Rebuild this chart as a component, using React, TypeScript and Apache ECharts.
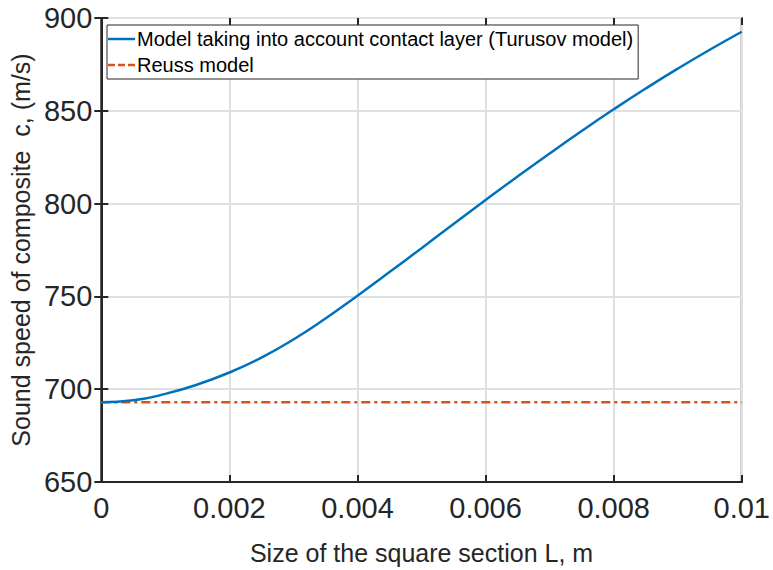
import React, { useEffect, useRef } from "react";
import * as echarts from "echarts";

const xValues = [0, 0.0005, 0.001, 0.0015, 0.002, 0.0025, 0.003, 0.0035, 0.004, 0.0045, 0.005, 0.0055, 0.006, 0.0065, 0.007, 0.0075, 0.008, 0.0085, 0.009, 0.0095, 0.01];
const turusov = [693, 694, 697.5, 702.5, 709, 717, 726.8, 738.1, 750.4, 763.1, 776, 789, 801.9, 814.6, 827, 839.1, 850.8, 862, 872.7, 882.9, 892.6];
const reussValue = 693;
const seriesNames = ["Model taking into account contact layer (Turusov model)", "Reuss model"];
const xTitle = "Size of the square section L, m";
const yTitle = "Sound speed of composite  c, (m/s)";

const FONT = "Liberation Sans, Arial, Helvetica, sans-serif";
const AXIS = "#262626";
const BLUE = "#0072BD";
const ORANGE = "#D95319";

export default function App() {
  const ref = useRef<HTMLDivElement>(null);
  useEffect(() => {
    document.body.style.margin = "0";
    const chart = echarts.init(ref.current!, null, { renderer: "svg" });
    const fmt = (v: number) => String(parseFloat(v.toFixed(4)));
    const hiddenAxisCommon = {
      axisLine: { show: false },
      axisLabel: { show: false },
      splitLine: { show: false },
      axisTick: { show: true, inside: true, length: 7, lineStyle: { color: AXIS, width: 2 } },
    };
    chart.setOption({
      animation: false,
      backgroundColor: "#ffffff",
      textStyle: { fontFamily: FONT },
      grid: { left: 101, right: 30, top: 18, bottom: 86, show: true, borderColor: AXIS, borderWidth: 2, containLabel: false },
      legend: {
        orient: "vertical",
        left: 107,
        top: 25,
        backgroundColor: "#ffffff",
        borderColor: AXIS,
        borderWidth: 1,
        borderRadius: 0,
        padding: [4, 5, 4, 1],
        itemGap: 6,
        itemWidth: 27,
        itemHeight: 2.5,
        textStyle: { fontSize: 20, color: "#000000", fontFamily: FONT, padding: [0, 0, 0, -3] },
        data: [
          { name: seriesNames[0], icon: "rect", itemStyle: { color: BLUE } },
          {
            name: seriesNames[1],
            icon: "path://M0,0h7v2.5h-7z M10,0h7v2.5h-7z M20,0h7v2.5h-7z",
            itemStyle: { color: ORANGE },
          },
        ],
      },
      xAxis: [
        {
          type: "value",
          min: 0,
          max: 0.01,
          interval: 0.002,
          name: xTitle,
          nameLocation: "middle",
          nameGap: 58,
          nameTextStyle: { fontSize: 25, color: AXIS, fontFamily: FONT },
          axisLine: { show: true, onZero: false, lineStyle: { color: AXIS, width: 2 } },
          axisTick: { show: true, inside: true, length: 7, lineStyle: { color: AXIS, width: 2 } },
          axisLabel: { fontSize: 29, color: AXIS, margin: 11, formatter: fmt, fontFamily: FONT },
          splitLine: { show: true, lineStyle: { color: "#e0e0e0", width: 2 } },
        },
        { type: "value", position: "top", min: 0, max: 0.01, interval: 0.002, ...hiddenAxisCommon },
      ],
      yAxis: [
        {
          type: "value",
          min: 650,
          max: 900,
          interval: 50,
          name: yTitle,
          nameLocation: "middle",
          nameGap: 66,
          nameTextStyle: { fontSize: 25, color: AXIS, fontFamily: FONT },
          axisLine: { show: true, onZero: false, lineStyle: { color: AXIS, width: 2 } },
          axisTick: { show: true, inside: true, length: 7, lineStyle: { color: AXIS, width: 2 } },
          axisLabel: { fontSize: 29, color: AXIS, margin: 9, fontFamily: FONT },
          splitLine: { show: true, lineStyle: { color: "#e0e0e0", width: 2 } },
        },
        { type: "value", position: "right", min: 650, max: 900, interval: 50, ...hiddenAxisCommon },
      ],
      series: [
        {
          name: seriesNames[0],
          type: "line",
          smooth: true,
          symbol: "none",
          data: xValues.map((x, i) => [x, turusov[i]]),
          lineStyle: { color: BLUE, width: 2.5 },
          itemStyle: { color: BLUE },
          z: 3,
        },
        {
          name: seriesNames[1],
          type: "line",
          symbol: "none",
          data: xValues.map((x) => [x, reussValue]),
          lineStyle: { color: ORANGE, width: 2.5, type: [9, 4, 3, 4] },
          itemStyle: { color: ORANGE },
          z: 2,
        },
      ],
    });
    return () => chart.dispose();
  }, []);
  return <div ref={ref} style={{ width: 773, height: 570 }} />;
}
